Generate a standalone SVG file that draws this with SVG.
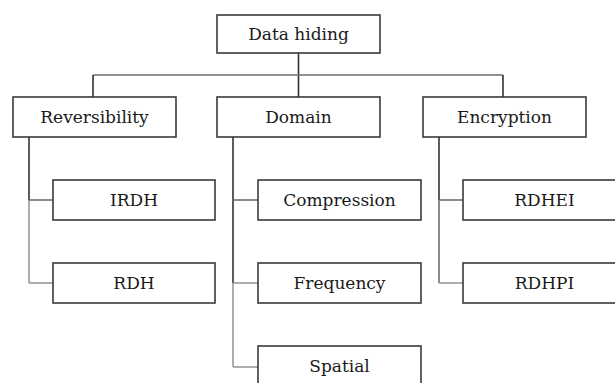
<svg xmlns="http://www.w3.org/2000/svg" width="615" height="383" viewBox="0 0 615 383">
  <style>
    .box { fill: #ffffff; stroke: #3a3a3a; stroke-width: 1.6; }
    .lbl { font-family: "DejaVu Serif", "Liberation Serif", serif; font-size: 17px; fill: #1a1a1a; text-anchor: middle; }
    .dark { stroke: #333333; stroke-width: 1.6; fill: none; }
    .mid { stroke: #6e6e6e; stroke-width: 1.6; fill: none; }
    .light { stroke: #9a9a9a; stroke-width: 1.6; fill: none; }
  </style>
  <rect width="615" height="383" fill="#ffffff"/>

  <g id="connectors">
    <!-- root to bus -->
    <line class="dark" x1="298.5" y1="53" x2="298.5" y2="97"/>
    <line class="mid" x1="93" y1="75" x2="503" y2="75"/>
    <line class="dark" x1="93" y1="75" x2="93" y2="97"/>
    <line class="dark" x1="503" y1="75" x2="503" y2="97"/>
    <!-- Reversibility branch -->
    <line class="dark" x1="29" y1="137" x2="29" y2="200"/>
    <line class="light" x1="29" y1="200" x2="29" y2="283"/>
    <line class="mid" x1="29" y1="200" x2="53" y2="200"/>
    <line class="light" x1="29" y1="283" x2="53" y2="283"/>
    <!-- Domain branch -->
    <line class="dark" x1="233" y1="137" x2="233" y2="283"/>
    <line class="light" x1="233" y1="283" x2="233" y2="367"/>
    <line class="mid" x1="233" y1="200" x2="258" y2="200"/>
    <line class="light" x1="233" y1="283" x2="258" y2="283"/>
    <line class="light" x1="233" y1="367" x2="258" y2="367"/>
    <!-- Encryption branch -->
    <line class="dark" x1="439" y1="137" x2="439" y2="200"/>
    <line class="mid" x1="439" y1="200" x2="439" y2="283"/>
    <line class="mid" x1="439" y1="200" x2="463" y2="200"/>
    <line class="light" x1="439" y1="283" x2="463" y2="283"/>
  </g>

  <g id="data-hiding">
    <rect class="box" x="217" y="15" width="163" height="38"/>
    <text class="lbl" x="298.5" y="40">Data hiding</text>
  </g>

  <g id="reversibility">
    <rect class="box" x="13" y="97" width="163" height="40"/>
    <text class="lbl" x="94.5" y="123">Reversibility</text>
  </g>
  <g id="domain">
    <rect class="box" x="217" y="97" width="163" height="40"/>
    <text class="lbl" x="298.5" y="123">Domain</text>
  </g>
  <g id="encryption">
    <rect class="box" x="423" y="97" width="163" height="40"/>
    <text class="lbl" x="504.5" y="123">Encryption</text>
  </g>

  <g id="irdh">
    <rect class="box" x="53" y="180" width="162" height="40"/>
    <text class="lbl" x="134" y="206">IRDH</text>
  </g>
  <g id="rdh">
    <rect class="box" x="53" y="263" width="162" height="40"/>
    <text class="lbl" x="134" y="289">RDH</text>
  </g>

  <g id="compression">
    <rect class="box" x="258" y="180" width="163" height="40"/>
    <text class="lbl" x="339.5" y="206">Compression</text>
  </g>
  <g id="frequency">
    <rect class="box" x="258" y="263" width="163" height="40"/>
    <text class="lbl" x="339.5" y="289">Frequency</text>
  </g>
  <g id="spatial">
    <rect class="box" x="258" y="346" width="163" height="40"/>
    <text class="lbl" x="339.5" y="372">Spatial</text>
  </g>

  <g id="rdhei">
    <rect class="box" x="463" y="180" width="163" height="40"/>
    <text class="lbl" x="544.5" y="206">RDHEI</text>
  </g>
  <g id="rdhpi">
    <rect class="box" x="463" y="263" width="163" height="40"/>
    <text class="lbl" x="544.5" y="289">RDHPI</text>
  </g>
</svg>
